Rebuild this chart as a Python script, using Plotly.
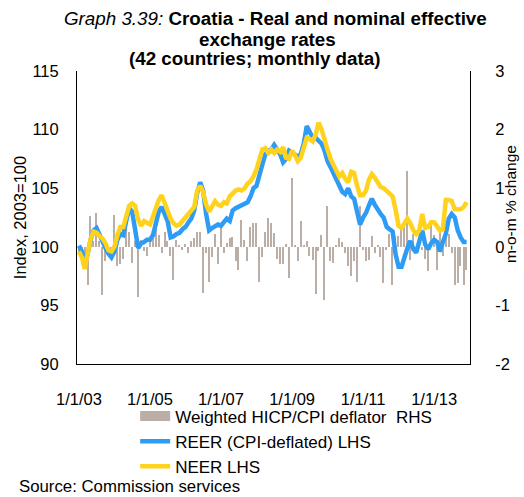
import pandas as pd
import plotly.graph_objects as go

months = pd.date_range("2003-01-01", "2013-12-01", freq="MS")

reer = [100.1, 99.6, 98.6, 99.4, 100.6, 101.4, 101.6, 101.0, 100.3, 99.9, 99.4, 99.1,
        99.6, 100.6, 101.1, 101.0, 102.2, 103.3, 103.0, 101.5, 99.9, 100.3, 100.4, 100.6,
        100.6, 101.0, 102.0, 103.0, 103.4, 102.8, 102.2, 100.8, 100.9, 101.1, 101.2, 101.5,
        101.7, 102.1, 102.4, 103.1, 104.6, 105.5, 104.8, 102.8, 101.4, 101.6, 101.8, 101.9,
        101.8, 102.1, 102.4, 102.2, 103.1, 103.3, 103.4, 103.5, 103.6, 103.8, 104.3, 105.0,
        105.2, 106.0, 107.0, 107.9, 108.2, 108.3, 108.7, 108.3, 107.9, 107.2, 107.5, 108.2,
        108.0, 107.8, 107.7, 107.9, 108.8, 110.3, 109.7, 109.3, 109.3, 109.1, 108.8, 108.2,
        107.3, 106.8, 106.3, 105.8, 105.3, 104.7, 104.5, 105.0, 104.3, 104.1, 103.0, 101.9,
        102.5, 102.9, 103.5, 104.1, 103.6, 103.1, 102.8, 102.5, 101.7, 101.5, 101.3, 99.4,
        98.3, 98.3, 99.2, 99.9, 100.5, 99.8, 99.5, 100.3, 101.4, 100.2, 99.8, 100.3,
        100.6, 100.4, 99.6, 100.4, 101.1, 102.4, 102.8, 102.5, 101.4, 100.8, 100.4, 100.4]

neer = [99.6, 99.1, 98.1, 99.3, 100.7, 101.3, 101.2, 100.9, 100.7, 100.3, 99.7, 99.6,
        100.0, 101.0, 101.7, 101.7, 102.6, 103.5, 103.7, 103.5, 102.3, 101.8, 102.2, 102.0,
        101.9, 102.6, 103.3, 104.0, 104.4, 103.7, 103.2, 102.4, 102.0, 101.8, 101.9, 102.2,
        102.4, 102.7, 103.0, 103.4, 104.8, 105.2, 104.7, 103.6, 103.0, 103.4, 103.9, 103.6,
        103.5, 103.8, 103.7, 104.3, 104.6, 104.8, 104.9, 104.8, 105.0, 105.4, 105.6, 106.0,
        106.6, 107.6, 108.3, 108.4, 108.0, 108.3, 108.0, 108.3, 108.1, 108.5, 107.6, 107.5,
        108.2, 107.8, 107.3, 107.6, 108.6, 109.3, 109.2, 109.0, 109.6, 110.6, 110.0, 109.3,
        108.3, 107.5, 106.9, 106.5, 106.0, 106.3, 105.8, 105.5, 106.4, 106.3, 105.2, 104.4,
        104.4, 104.8, 105.7, 106.2, 105.9, 105.5, 105.1, 105.0, 104.8, 104.5, 104.3, 103.2,
        101.8, 101.6, 102.0, 102.4, 102.0, 101.4, 101.1, 101.4, 102.8, 101.6, 101.7, 102.1,
        102.1, 101.8, 101.4, 101.5, 104.0, 104.0, 103.9, 103.2, 103.2, 103.2, 103.4, 103.8]

deflator = [-0.12, -0.05, -0.2, -0.66, 0.53, 0.1, 0.58, 0.1, -0.83, -0.25, -0.05, -0.2,
            0.55, -0.32, -0.3, -0.2, 0.39, 0.25, -0.28, 0.1, -0.86, 0.12, -0.08, -0.15,
            0.17, 0.28, 0.38, 0.2, -0.1, 0.25, 0.1, -0.15, -0.57, 0.12, 0.02, -0.05,
            0.05, -0.1, 0.1, 0.15, 0.26, 0.26, -0.78, -0.1, -0.6, -0.17, 0.22, -0.3,
            0.37, -0.1, 0.07, 0.15, 0.17, -0.25, -0.4, 0.45, 0.12, -0.25, 0.34, 0.4,
            0.4, -0.6, -0.17, 0.25, 0.5, 0.4, 0.24, -0.2, -0.3, -0.3, 0.05, -0.53,
            1.18, 0.02, -0.25, 0.44, 0.03, 0.1, -0.15, -0.22, -0.81, -0.08, 0.2, -0.91,
            0.69, -0.25, -0.28, 0.03, 0.15, 0.08, -0.1, -0.33, -0.5, -0.25, -0.6, 0.69,
            -0.05, -0.25, -0.22, 0.18, -0.1, 0.03, -0.18, -0.62, -0.05, 0.22, -0.66, 0.18,
            0.18, 0.35, 0.35, 1.29, -0.22, 0.22, -0.1, 0.14, -0.05, -0.2, -0.42, 0.45,
            0.2, -0.39, 0.28, -0.15, 0.44, 0.22, -0.1, -0.65, -0.62, -0.33, -0.65, -0.4]

tick_dates = ["2003-01-01", "2005-01-01", "2007-01-01", "2009-01-01", "2011-01-01", "2013-01-01"]
tick_labels = ["1/1/03", "1/1/05", "1/1/07", "1/1/09", "1/1/11", "1/1/13"]
rhs_ticks = [-2, -1, 0, 1, 2, 3]
rhs_labels = ["-2", "-1", "0", "1", "2", "3"]

FONT = "Liberation Sans, Arial, sans-serif"
BAR_COLOR = "#BAAEA6"

fig = go.Figure()
fig.add_trace(go.Bar(
    x=months, y=deflator, name="Weighted HICP/CPI deflator  RHS",
    marker=dict(color=BAR_COLOR, line=dict(width=0)),
    width=14 * 86400000, yaxis="y", legendgroup="a", showlegend=False))
# legend entry for the bars drawn as a wide swatch, like the reference
fig.add_trace(go.Scatter(
    x=[None], y=[None], name="Weighted HICP/CPI deflator  RHS", mode="lines",
    line=dict(color=BAR_COLOR, width=10), yaxis="y", legendgroup="a"))
fig.add_trace(go.Scatter(
    x=months, y=reer, name="REER (CPI-deflated) LHS", mode="lines",
    line=dict(color="#2E9BF5", width=4.5), yaxis="y2", legendgroup="b"))
fig.add_trace(go.Scatter(
    x=months, y=neer, name="NEER LHS", mode="lines",
    line=dict(color="#FFD21E", width=4.5), yaxis="y2", legendgroup="c"))

fig.update_layout(
    width=524, height=497,
    margin=dict(l=77, r=54, t=71, b=133, autoexpand=False),
    paper_bgcolor="white", plot_bgcolor="white",
    font=dict(family=FONT, size=16, color="black"),
    showlegend=True,
    bargap=0,
    xaxis=dict(
        type="date", range=["2002-12-12", "2014-01-05"], automargin=False,
        tickvals=tick_dates, ticktext=tick_labels,
        showgrid=False, zeroline=False,
        showline=True, linecolor="black", linewidth=1,
        ticks="outside", ticklen=20, tickcolor="rgba(0,0,0,0)",
        tickfont=dict(size=16.5)),
    yaxis=dict(
        side="right", range=[-2, 3], automargin=False,
        tickvals=rhs_ticks, ticktext=rhs_labels,
        showgrid=False, zeroline=False,
        showline=True, linecolor="black", linewidth=1,
        ticks="outside", ticklen=21, tickcolor="rgba(0,0,0,0)",
        tickfont=dict(size=16.5)),
    yaxis2=dict(
        overlaying="y", side="left", range=[90, 115], dtick=5, automargin=False,
        showgrid=False, zeroline=False,
        showline=True, linecolor="black", linewidth=1,
        ticks="outside", ticklen=14, tickcolor="rgba(0,0,0,0)",
        tickfont=dict(size=16.5),
        title=dict(text="Index, 2003=100", font=dict(size=16.5), standoff=0)),
    legend=dict(
        x=0.148, y=-0.1178, xanchor="left", yanchor="top",
        traceorder="grouped", tracegroupgap=0,
        font=dict(size=17), bgcolor="rgba(0,0,0,0)"),
    annotations=[
        dict(text="<i>Graph 3.39:</i> <b>Croatia - Real and nominal effective</b>",
             xref="paper", yref="paper", x=0.506, y=1.1775,
             xanchor="center", yanchor="middle", showarrow=False,
             font=dict(size=18.8)),
        dict(text="<b>exchange rates</b>",
             xref="paper", yref="paper", x=0.486, y=1.109,
             xanchor="center", yanchor="middle", showarrow=False,
             font=dict(size=18.8)),
        dict(text="<b>(42 countries; monthly data)</b>",
             xref="paper", yref="paper", x=0.453, y=1.041,
             xanchor="center", yanchor="middle", showarrow=False,
             font=dict(size=18.8)),
        dict(text="m-o-m % change", textangle=-90,
             xref="paper", yref="paper", x=1.102, y=0.546,
             xanchor="center", yanchor="middle", showarrow=False,
             font=dict(size=15.5)),
        dict(text="Source: Commission services", xref="paper", yref="paper",
             x=-0.153, y=-0.4174, xanchor="left", yanchor="middle",
             showarrow=False, font=dict(size=16.8)),
    ],
)

fig.write_html("out.html", config={"displayModeBar": False},
               post_script="document.body.style.margin='0px';")
